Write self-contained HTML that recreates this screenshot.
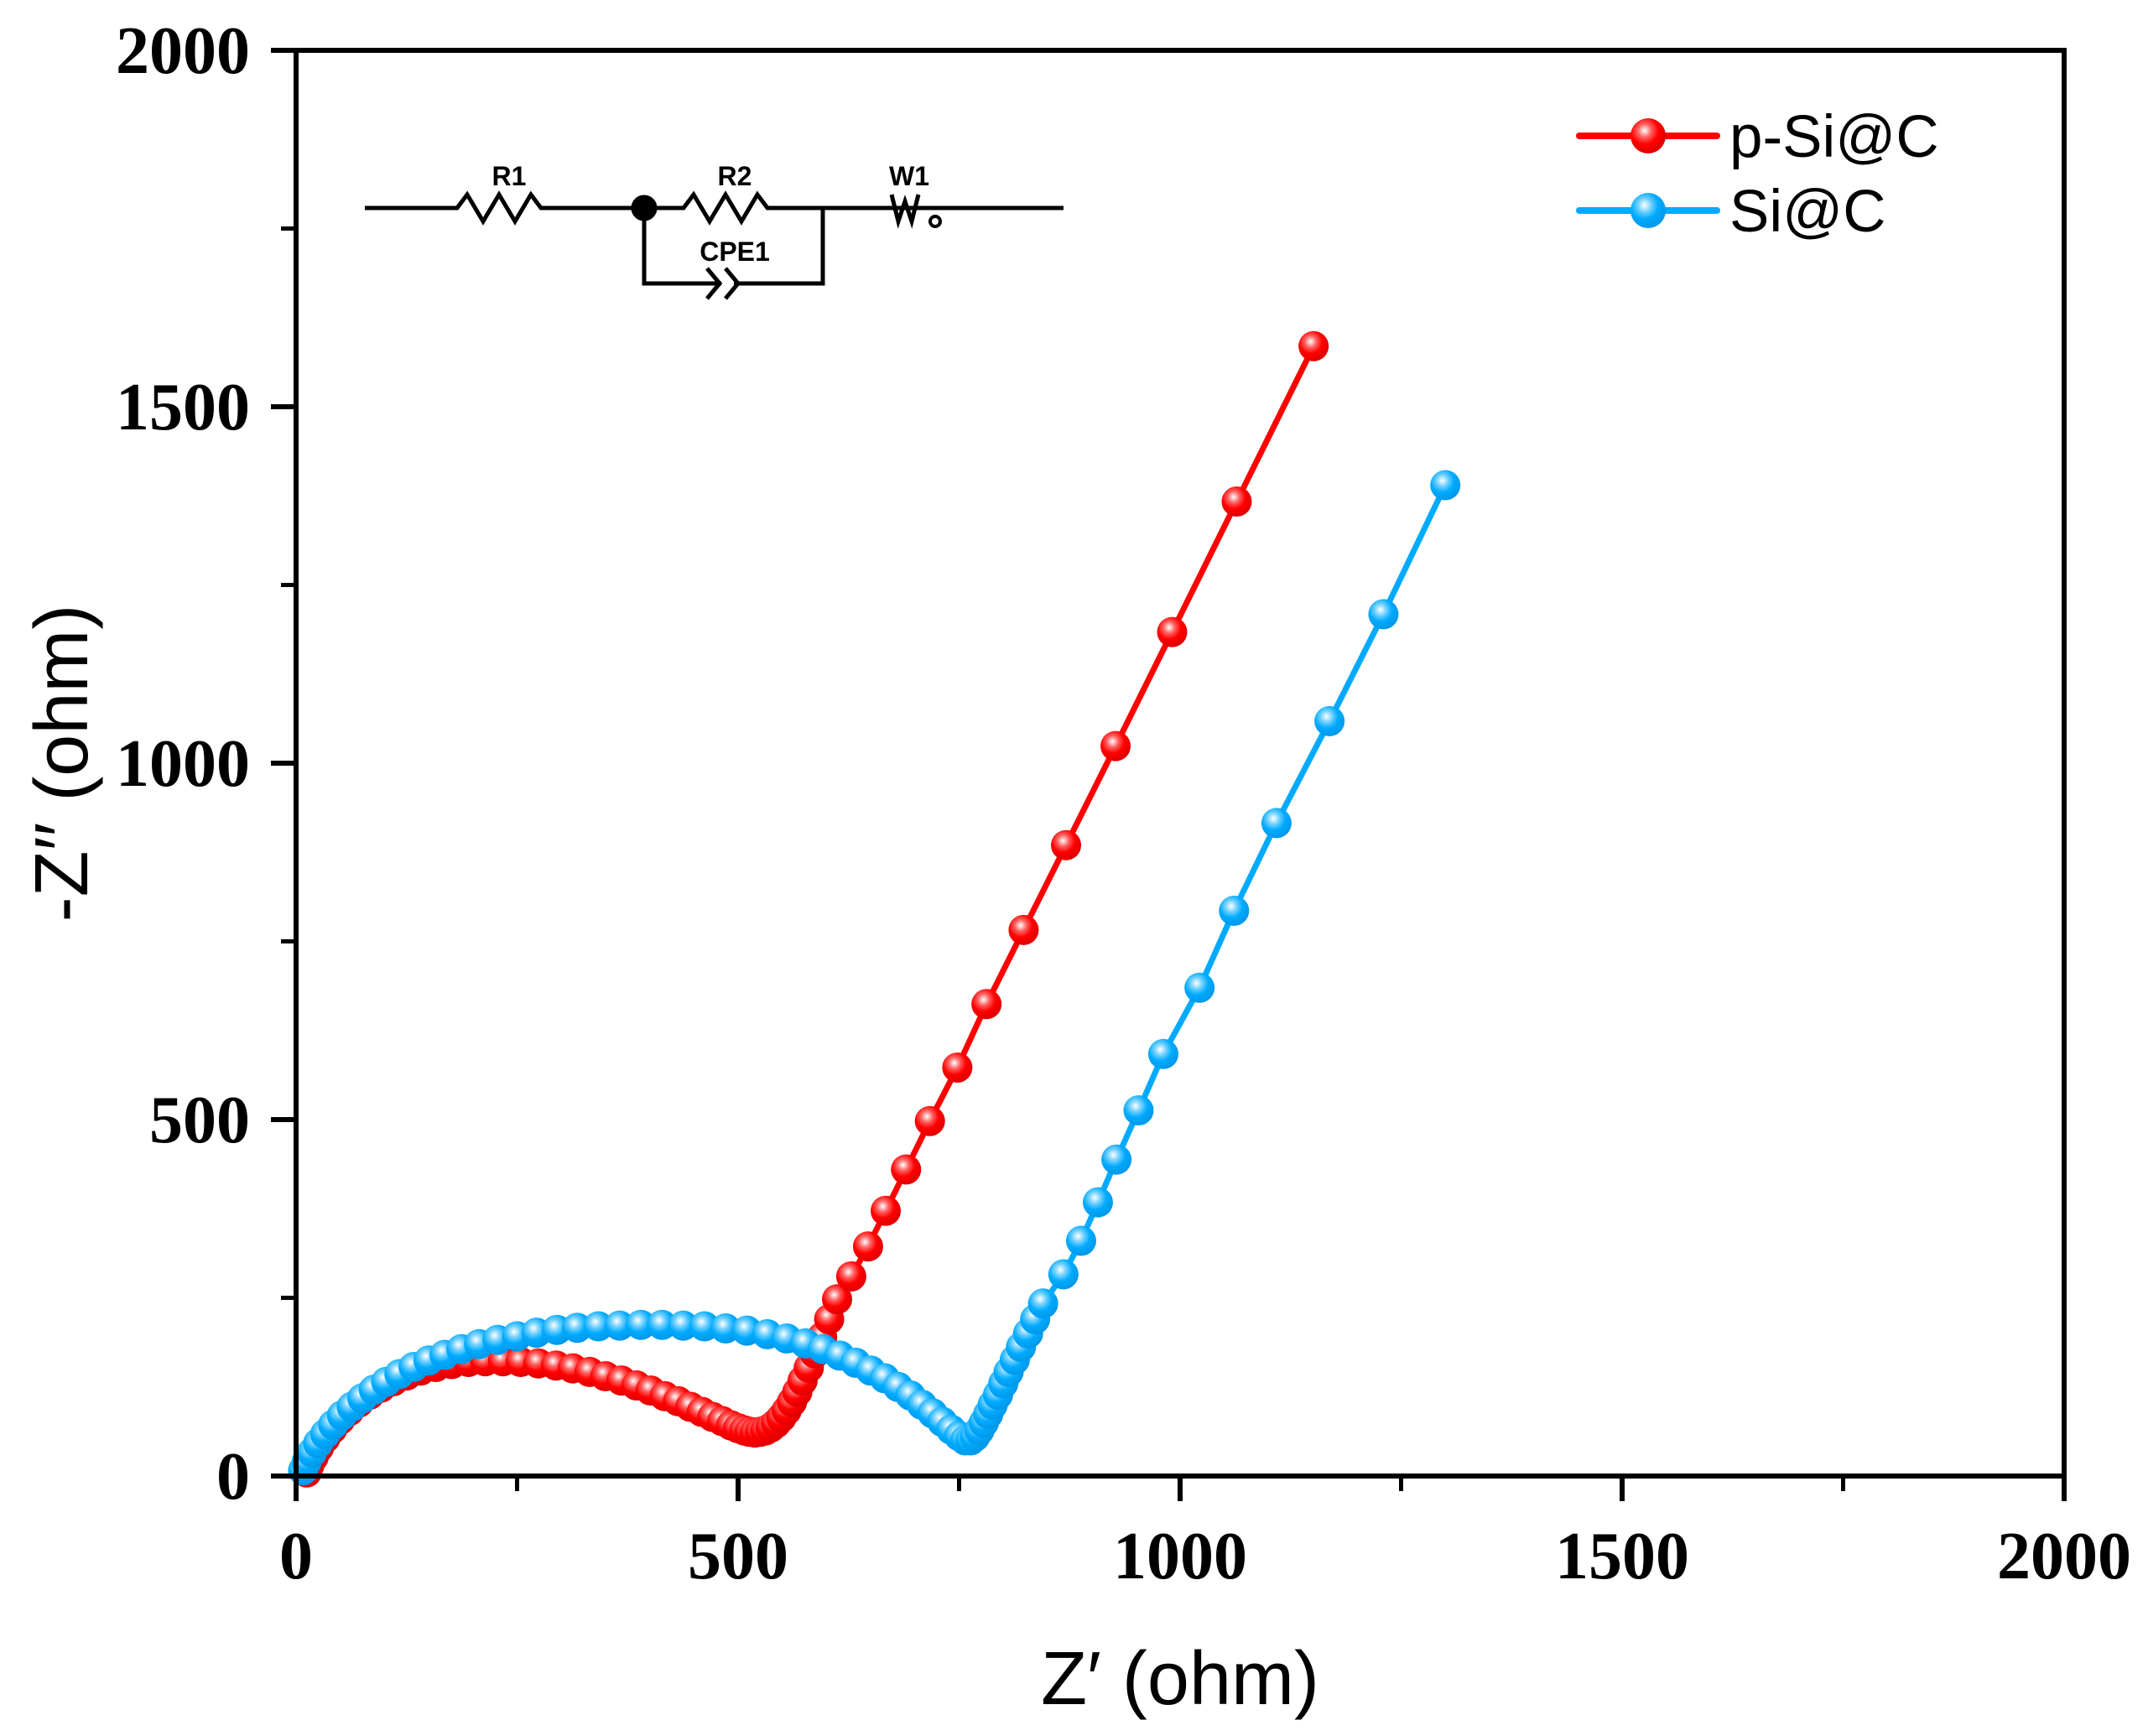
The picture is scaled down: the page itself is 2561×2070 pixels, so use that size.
<!DOCTYPE html>
<html><head><meta charset="utf-8"><style>
html,body{margin:0;padding:0;background:#fff;}
svg{display:block;}
</style></head><body>
<svg id="chart" width="2561" height="2070" viewBox="0 0 2561 2070" xmlns="http://www.w3.org/2000/svg">
<defs>
<radialGradient id="gr" cx="0.4" cy="0.35" r="0.65"><stop offset="0" stop-color="#fff"/><stop offset="0.3" stop-color="#ff6060"/><stop offset="0.6" stop-color="#ff0000"/><stop offset="1" stop-color="#e00000"/></radialGradient>
<radialGradient id="gb" cx="0.4" cy="0.35" r="0.65"><stop offset="0" stop-color="#fff"/><stop offset="0.3" stop-color="#70d0ff"/><stop offset="0.6" stop-color="#00aaff"/><stop offset="1" stop-color="#0098e8"/></radialGradient>
</defs>
<g id="series"></g>
<g id="axes"></g>
<g stroke="#000" stroke-width="5" fill="none">
<path d="M435,248 H545 l12,-16 l19,32 l19,-32 l19,32 l19,-32 l12,16 H815 l12,-16 l19,32 l19,-32 l19,32 l19,-32 l12,16 H1268"/>
<circle cx="768" cy="248" r="13" fill="#000"/>
<path d="M768,248 V338 H860 M875,338 H981 V248"/>
<path d="M843,320 l15,18 l-15,18 M865,320 l15,18 l-15,18"/>
<path d="M1063,232 l8,32 l8,-24 l8,24 l8,-32"/>
<circle cx="1115" cy="264" r="6" stroke-width="4"/>
</g>
<g font-family="Liberation Sans, sans-serif" font-weight="bold" font-size="32" text-anchor="middle" fill="#000">
<text x="607" y="221">R1</text>
<text x="876" y="221">R2</text>
<text x="1084" y="221">W1</text>
<text x="876" y="311">CPE1</text>
</g>
<g font-family="Liberation Sans, sans-serif" font-size="71">
<g>
<line x1="1883" y1="162" x2="2047" y2="162" stroke="#ff0000" stroke-width="8" stroke-linecap="round"/>
<circle cx="1965" cy="162" r="21" fill="url(#gr)"/>
<text x="2062" y="187">p-Si@C</text></g>
<g>
<line x1="1883" y1="251" x2="2047" y2="251" stroke="#00aaff" stroke-width="8" stroke-linecap="round"/>
<circle cx="1965" cy="251" r="21" fill="url(#gb)"/>
<text x="2062" y="276">Si@C</text></g>
</g>
<text x="1407" y="2032" text-anchor="middle" font-family="Liberation Sans, sans-serif" font-size="90">Z′ (ohm)</text>
<text transform="translate(104,910) rotate(-90)" text-anchor="middle" font-family="Liberation Sans, sans-serif" font-size="90">-Z′′ (ohm)</text>
</svg>
<script>
const redX=[12,15,20,26,33,41,50,60,71,83,96,110,125,141,158,176,195,214,234,254,274,294,313,332,350,368,385,401,417,432,446,459,471,482,492,500,507,513,519,525,531,537,543,549,555,561,567,573,580,587,595,603,612,628,647,667,690,717,748,781,823,871,927,991,1064,1151];
const redY=[5,15,27,40,53,66,79,91,103,114,124,133,141,148,153,157,160,161,161,160,158,155,151,146,140,134,127,120,112,105,97,90,83,77,71,67,64,62,61,62,64,68,74,82,92,104,118,134,152,172,195,220,248,280,322,372,430,498,573,662,766,885,1024,1184,1367,1585];
const blueX=[8,12,18,25,33,42,52,63,75,88,102,117,133,150,168,187,207,228,250,272,295,318,342,366,390,414,438,462,486,510,533,555,576,596,615,633,650,666,681,695,708,720,731,741,750,757,763,768,773,778,783,788,794,800,806,813,820,828,836,845,868,888,907,928,953,981,1022,1061,1109,1169,1230,1300];
const blueY=[8,20,33,46,59,72,85,97,109,121,132,143,153,162,170,178,185,191,196,201,205,208,210,211,212,212,211,210,207,204,199,193,186,178,169,159,148,137,125,113,100,88,76,65,56,50,50,55,64,75,87,100,114,130,146,163,181,200,220,242,283,330,384,444,513,592,685,793,916,1059,1209,1390];
const xTicks=[0,500,1000,1500,2000];
const yTicks=[0,500,1000,1500,2000];
const xMinor=[250,750,1250,1750];
const yMinor=[250,750,1250,1750];

const X0=353,X1=2461,Y0=1760,Y1=60;
function sx(v){return X0+(v/2000)*(X1-X0);}
function sy(v){return Y0-(v/2000)*(Y0-Y1);}
const NS='http://www.w3.org/2000/svg';
function mk(tag,attrs,parent){const e=document.createElementNS(NS,tag);for(const k in attrs)e.setAttribute(k,attrs[k]);parent.appendChild(e);return e;}

const series=document.getElementById('series');
function drawSeries(xs,ys,color,grad,name){
  const g=mk('g',{},series);
  
  
  const pts=xs.map((x,i)=>sx(x).toFixed(1)+','+sy(ys[i]).toFixed(1)).join(' ');
  const pl=mk('polyline',{points:pts,fill:'none',stroke:color,'stroke-width':7},g);
  
  
  xs.forEach((x,i)=>{
    const c=mk('circle',{cx:sx(x),cy:sy(ys[i]),r:18,fill:'url(#'+grad+')'},g);
    
    
  });
}
drawSeries(redX,redY,'#ff0000','gr','p-si-c-series');
drawSeries(blueX,blueY,'#00aaff','gb','si-c-series');

const axes=document.getElementById('axes');
const frame=mk('rect',{x:X0,y:Y1,width:X1-X0,height:Y0-Y1,fill:'none',stroke:'#000','stroke-width':6},axes);


xTicks.forEach(v=>{
  const t=mk('line',{x1:sx(v),y1:Y0,x2:sx(v),y2:Y0+30,stroke:'#000','stroke-width':6},axes);
  
  
  const l=mk('text',{x:sx(v),y:1882,'text-anchor':'middle','font-family':'Liberation Serif, serif','font-weight':'bold','font-size':80},axes);
  l.textContent=v;
  
  
});
xMinor.forEach(v=>{
  const t=mk('line',{x1:sx(v),y1:Y0,x2:sx(v),y2:Y0+18,stroke:'#000','stroke-width':5},axes);
  
  
});
yTicks.forEach(v=>{
  const t=mk('line',{x1:X0-30,y1:sy(v),x2:X0,y2:sy(v),stroke:'#000','stroke-width':6},axes);
  
  
  const l=mk('text',{x:298,y:sy(v)+27,'text-anchor':'end','font-family':'Liberation Serif, serif','font-weight':'bold','font-size':80},axes);
  l.textContent=v;
  
  
});
yMinor.forEach(v=>{
  const t=mk('line',{x1:X0-18,y1:sy(v),x2:X0,y2:sy(v),stroke:'#000','stroke-width':5},axes);
  
  
});
</script>
</body></html>
